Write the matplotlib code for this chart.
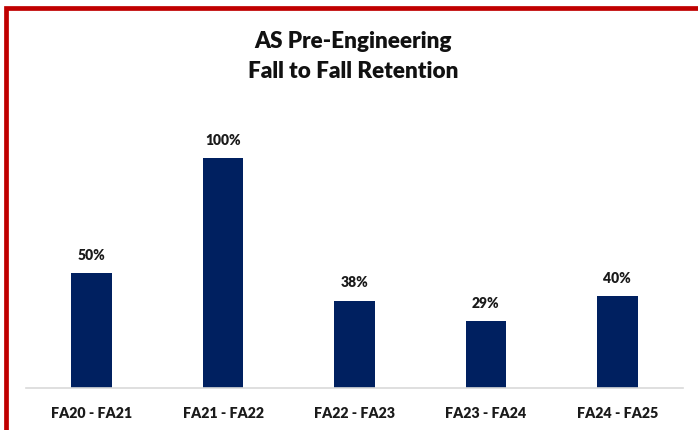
import matplotlib
matplotlib.use('Agg')
import matplotlib.pyplot as plt
from matplotlib.patches import Rectangle

plt.rcParams['font.family'] = ['Lato', 'DejaVu Sans']

categories = ['FA20 - FA21', 'FA21 - FA22', 'FA22 - FA23', 'FA23 - FA24', 'FA24 - FA25']
retention = [0.50, 1.00, 0.38, 0.29, 0.40]
labels = ['50%', '100%', '38%', '29%', '40%']

navy = '#002060'
txt = '#1a1a1a'

fig = plt.figure(figsize=(6.98, 4.30), dpi=100)

# red frame (top and left visible, right side cut off)
fig.add_artist(Rectangle((6/698, -0.05), 1.2, 1.05 - 8/430,
                         transform=fig.transFigure, fill=False,
                         edgecolor='#c00000', lw=3.4, clip_on=False))

ax = fig.add_axes([26/698, 1 - 388/430, 657/698, 276/430])
x = range(len(categories))
ax.bar(x, retention, width=0.31, color=navy)
for xi, v, lab in zip(x, retention, labels):
    ax.annotate(lab, (xi, v), xytext=(0, 8), textcoords='offset points',
                ha='center', va='bottom', fontsize=10, fontweight='heavy',
                color=txt)

ax.set_xlim(-0.5, len(categories) - 0.5)
ax.set_ylim(0, 1.2)
ax.set_xticks(list(x))
ax.set_xticklabels(categories, fontsize=10.3, fontweight='heavy', color=txt)
ax.tick_params(axis='x', length=0, pad=14)
ax.set_yticks([])
for s in ['top', 'right', 'left']:
    ax.spines[s].set_visible(False)
ax.spines['bottom'].set_color('#d9d9d9')
ax.spines['bottom'].set_linewidth(1.2)

fig.text(353/698, 1 - 42/430, 'AS Pre-Engineering', ha='center', va='center',
         fontsize=16.2, fontweight='heavy', color='#111111')
fig.text(353/698, 1 - 71/430, 'Fall to Fall Retention', ha='center', va='center',
         fontsize=16.2, fontweight='heavy', color='#111111')

fig.savefig('out.png', dpi=100)
